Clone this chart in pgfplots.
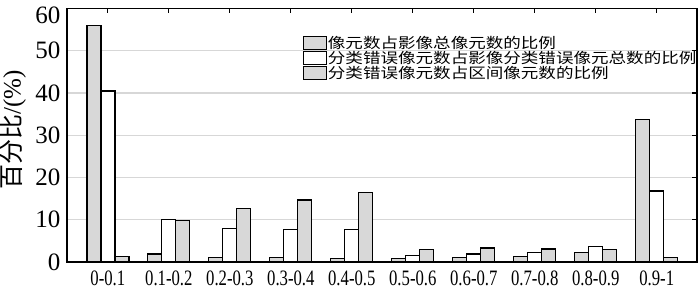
\documentclass[border=0pt]{standalone}
\usepackage{pgfplots}
\pgfplotsset{compat=1.18}
\usetikzlibrary{calc}
\usepackage{fontspec}
\setmainfont{Liberation Serif}
\newfontfamily\cjk{Noto Sans CJK SC}
\definecolor{barfill}{RGB}{216,216,216}
\definecolor{gridc}{RGB}{215,215,215}
\pgfplotstableread{
x s1 s2 s3
0 55.9 40.5 1.3
1 1.9 10.1 9.8
2 1.1 8.0 12.6
3 1.0 7.7 14.7
4 0.8 7.7 16.4
5 0.8 1.5 2.9
6 1.0 1.9 3.3
7 1.3 2.2 3.1
8 2.2 3.7 2.9
9 33.8 16.8 1.0
}\datatable
\begin{document}
\begin{tikzpicture}
\begin{axis}[name=a,
 scale only axis, width=630pt, height=253.5pt,
 ymin=0, ymax=60, ytick={0,10,...,50},
 extra y ticks={60},
 extra y tick style={yticklabel style={yshift=-7pt}, grid=none},
 xmin=-0.67, xmax=9.66,
 xtick={0,...,9},
 xticklabels={0-0.1,0.1-0.2,0.2-0.3,0.3-0.4,0.4-0.5,0.5-0.6,0.6-0.7,0.7-0.8,0.8-0.9,0.9-1},
 ybar=0pt, bar width=14pt,
 axis line style={line width=1.8pt},
 tick align=inside, xtick pos=right, ytick pos=right,
 xticklabel pos=left, yticklabel pos=left,
 major tick length=5pt,
 tick style={line width=1.2pt, black},
 ymajorgrids, grid style={gridc, line width=1.3pt},
 /pgf/number format/assume math mode=true,
 yticklabel style={font=\fontsize{25}{25}\selectfont, xshift=-3pt},
 xticklabel style={font=\fontsize{22}{22}\selectfont, xscale=0.76, yshift=-5pt},
 ylabel={{\cjk 百分比}/(\%)},
 ylabel style={font=\fontsize{25}{25}\selectfont, at={(axis description cs:-0.086,0.52)}, anchor=center},
 legend style={at={(axis description cs:0.375,0.893)}, anchor=north west, draw=none, fill=none,
   font=\fontsize{14.5}{14.5}\cjk, row sep=0pt, inner sep=0pt, nodes={inner sep=0.5pt}},
 legend cell align=left,
 mylegend/.style={legend image code/.code={\draw[##1, line width=1pt] (0pt,-6.5pt) rectangle (23pt,6.5pt);}},
]
\addplot[draw=black, line width=1.3pt, fill=barfill, mylegend] table[x=x,y=s1]{\datatable};
\addplot[draw=black, line width=1.3pt, fill=white, mylegend] table[x=x,y=s2]{\datatable};
\addplot[draw=black, line width=1.3pt, fill=barfill, mylegend] table[x=x,y=s3]{\datatable};
\legend{\scalebox{1.21}[1]{像元数占影像总像元数的比例},\scalebox{1.21}[1]{分类错误像元数占影像分类错误像元总数的比例},\scalebox{1.21}[1]{分类错误像元数占区间像元数的比例}}
\end{axis}
\pgfresetboundingbox
\path ($(a.south west)+(-67pt,-30pt)$) rectangle ($(a.north east)+(3pt,8.5pt)$);
\end{tikzpicture}
\end{document}
